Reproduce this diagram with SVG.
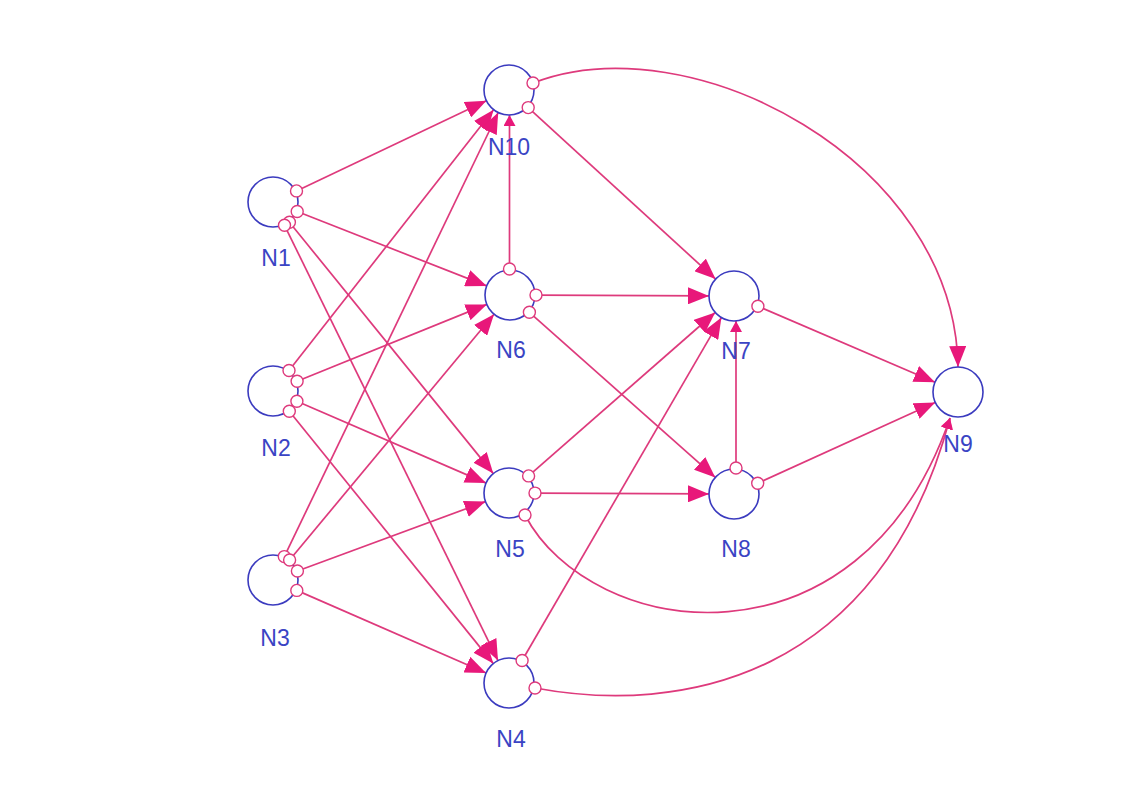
<svg xmlns="http://www.w3.org/2000/svg" width="1138" height="786" viewBox="0 0 1138 786">
<style>
.e{fill:none;stroke:#de3a7c;stroke-width:1.7}
.n{fill:#fff;stroke:#3b3bbf;stroke-width:1.6}
.p{fill:#fff;stroke:#de3a7c;stroke-width:1.4}
.t{font-family:"Liberation Sans",Arial,sans-serif;font-size:23px;fill:#3a44c4;text-anchor:middle}
</style>
<defs>
<marker id="a" markerUnits="userSpaceOnUse" markerWidth="21" markerHeight="17" refX="21" refY="8.5" orient="auto">
<path d="M0,0 L21,8.5 L0,17 z" fill="#e8187a"/>
</marker>
<marker id="s" markerUnits="userSpaceOnUse" markerWidth="11" markerHeight="12" refX="11" refY="6" orient="auto">
<path d="M0,0 L11,6 L0,12 z" fill="#e8187a"/>
</marker>
</defs>
<rect width="1138" height="786" fill="#fff"/>
<g id="connectors">
<line class="e" x1="296.5" y1="190.9" x2="486.4" y2="100.7" marker-end="url(#a)"/>
<line class="e" x1="297.2" y1="211.5" x2="486.7" y2="285.9" marker-end="url(#a)"/>
<line class="e" x1="289.4" y1="222.2" x2="493.3" y2="473.6" marker-end="url(#a)"/>
<line class="e" x1="284.5" y1="225.3" x2="498.0" y2="660.6" marker-end="url(#a)"/>
<line class="e" x1="289.0" y1="370.5" x2="493.6" y2="109.7" marker-end="url(#a)"/>
<line class="e" x1="297.1" y1="381.2" x2="486.8" y2="304.4" marker-end="url(#a)"/>
<line class="e" x1="296.9" y1="401.3" x2="486.1" y2="483.1" marker-end="url(#a)"/>
<line class="e" x1="289.3" y1="411.2" x2="493.3" y2="663.6" marker-end="url(#a)"/>
<line class="e" x1="284.3" y1="556.6" x2="498.2" y2="112.5" marker-end="url(#a)"/>
<line class="e" x1="289.6" y1="560.0" x2="494.0" y2="314.2" marker-end="url(#a)"/>
<line class="e" x1="297.4" y1="571.0" x2="485.5" y2="501.6" marker-end="url(#a)"/>
<line class="e" x1="296.8" y1="590.4" x2="486.1" y2="673.0" marker-end="url(#a)"/>
<line class="e" x1="509.5" y1="269" x2="509.5" y2="115" marker-end="url(#s)"/>
<line class="e" x1="528.2" y1="107.6" x2="715.6" y2="279.1" marker-end="url(#a)"/>
<path class="e" d="M533,83 C690,22 955,160 958,367" marker-end="url(#a)"/>
<line class="e" x1="536" y1="295.1" x2="709" y2="295.9" marker-end="url(#a)"/>
<line class="e" x1="529.4" y1="312.3" x2="715.3" y2="477.4" marker-end="url(#a)"/>
<line class="e" x1="528.6" y1="475.9" x2="715.2" y2="312.5" marker-end="url(#a)"/>
<line class="e" x1="535" y1="493.1" x2="709" y2="493.9" marker-end="url(#a)"/>
<path class="e" d="M525,515 C590,640 860,680 950,418" marker-end="url(#s)"/>
<line class="e" x1="522.1" y1="660.5" x2="721.4" y2="317.6" marker-end="url(#a)"/>
<path class="e" d="M535,688 C680,715 880,680 950,418" marker-end="url(#s)"/>
<line class="e" x1="757.9" y1="306.2" x2="935" y2="382.2" marker-end="url(#a)"/>
<line class="e" x1="736" y1="468" x2="736" y2="321" marker-end="url(#s)"/>
<line class="e" x1="757.7" y1="483.2" x2="935.2" y2="402.4" marker-end="url(#a)"/>
</g>
<g id="N1">
<circle class="n" cx="273" cy="202" r="25"/>
<circle class="p" cx="296.5" cy="190.9" r="6"/>
<circle class="p" cx="297.2" cy="211.5" r="6"/>
<circle class="p" cx="289.4" cy="222.2" r="6"/>
<circle class="p" cx="284.5" cy="225.3" r="6"/>
<text class="t" x="276" y="266">N1</text>
</g>
<g id="N2">
<circle class="n" cx="273" cy="391" r="25"/>
<circle class="p" cx="289.0" cy="370.5" r="6"/>
<circle class="p" cx="297.1" cy="381.2" r="6"/>
<circle class="p" cx="296.9" cy="401.3" r="6"/>
<circle class="p" cx="289.3" cy="411.2" r="6"/>
<text class="t" x="276" y="456">N2</text>
</g>
<g id="N3">
<circle class="n" cx="273" cy="580" r="25"/>
<circle class="p" cx="284.3" cy="556.6" r="6"/>
<circle class="p" cx="289.6" cy="560.0" r="6"/>
<circle class="p" cx="297.4" cy="571.0" r="6"/>
<circle class="p" cx="296.8" cy="590.4" r="6"/>
<text class="t" x="275" y="646">N3</text>
</g>
<g id="N10">
<circle class="n" cx="509" cy="90" r="25"/>
<circle class="p" cx="533" cy="83" r="6"/>
<circle class="p" cx="528.2" cy="107.6" r="6"/>
<text class="t" x="509" y="155">N10</text>
</g>
<g id="N6">
<circle class="n" cx="510" cy="295" r="25"/>
<circle class="p" cx="509.5" cy="269" r="6"/>
<circle class="p" cx="536" cy="295.1" r="6"/>
<circle class="p" cx="529.4" cy="312.3" r="6"/>
<text class="t" x="511" y="358">N6</text>
</g>
<g id="N5">
<circle class="n" cx="509" cy="493" r="25"/>
<circle class="p" cx="528.6" cy="475.9" r="6"/>
<circle class="p" cx="535" cy="493.1" r="6"/>
<circle class="p" cx="525" cy="515" r="6"/>
<text class="t" x="510" y="557">N5</text>
</g>
<g id="N4">
<circle class="n" cx="509" cy="683" r="25"/>
<circle class="p" cx="522.1" cy="660.5" r="6"/>
<circle class="p" cx="535" cy="688" r="6"/>
<text class="t" x="511" y="747">N4</text>
</g>
<g id="N7">
<circle class="n" cx="734" cy="296" r="25"/>
<circle class="p" cx="757.9" cy="306.2" r="6"/>
<text class="t" x="736" y="359">N7</text>
</g>
<g id="N8">
<circle class="n" cx="734" cy="494" r="25"/>
<circle class="p" cx="736" cy="468" r="6"/>
<circle class="p" cx="757.7" cy="483.2" r="6"/>
<text class="t" x="736" y="557">N8</text>
</g>
<g id="N9">
<circle class="n" cx="958" cy="392" r="25"/>
<text class="t" x="958" y="452">N9</text>
</g>
</svg>
